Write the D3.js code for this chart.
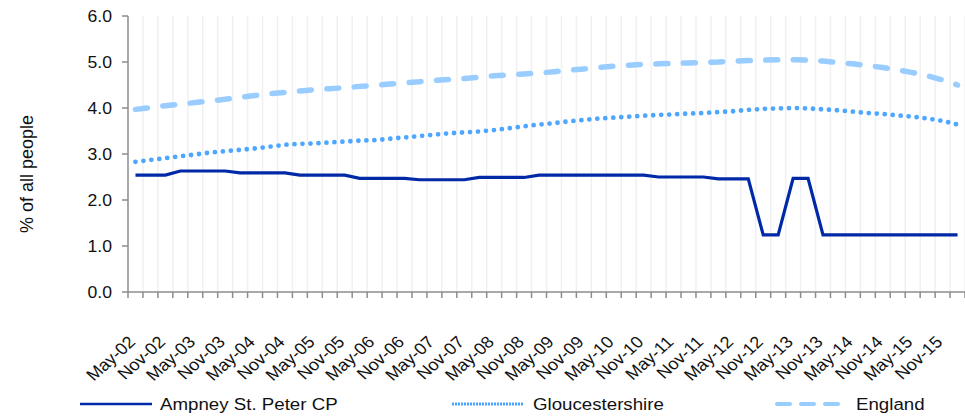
<!DOCTYPE html>
<html>
<head>
<meta charset="utf-8">
<script src="https://cdn.jsdelivr.net/npm/d3@7"></script>
<style>
  body { margin: 0; background: #fff; }
  svg text { font-family: "Liberation Sans", Arial, sans-serif; fill: #111; }
</style>
</head>
<body>
<div id="chart"></div>
<script>
// quarterly categories, May-02 .. Feb-16
var categories = [
  "May-02","Aug-02","Nov-02","Feb-03","May-03","Aug-03","Nov-03","Feb-04",
  "May-04","Aug-04","Nov-04","Feb-05","May-05","Aug-05","Nov-05","Feb-06",
  "May-06","Aug-06","Nov-06","Feb-07","May-07","Aug-07","Nov-07","Feb-08",
  "May-08","Aug-08","Nov-08","Feb-09","May-09","Aug-09","Nov-09","Feb-10",
  "May-10","Aug-10","Nov-10","Feb-11","May-11","Aug-11","Nov-11","Feb-12",
  "May-12","Aug-12","Nov-12","Feb-13","May-13","Aug-13","Nov-13","Feb-14",
  "May-14","Aug-14","Nov-14","Feb-15","May-15","Aug-15","Nov-15","Feb-16"
];

var ampney = [
  2.54, 2.54, 2.54, 2.63, 2.63, 2.63, 2.63, 2.59,
  2.59, 2.59, 2.59, 2.54, 2.54, 2.54, 2.54, 2.47,
  2.47, 2.47, 2.47, 2.44, 2.44, 2.44, 2.44, 2.49,
  2.49, 2.49, 2.49, 2.54, 2.54, 2.54, 2.54, 2.54,
  2.54, 2.54, 2.54, 2.50, 2.50, 2.50, 2.50, 2.46,
  2.46, 2.46, 1.24, 1.24, 2.47, 2.47, 1.24, 1.24,
  1.24, 1.24, 1.24, 1.24, 1.24, 1.24, 1.24, 1.24
];

var gloucestershire = [
  2.83, 2.87, 2.91, 2.95, 2.99, 3.03, 3.06, 3.09,
  3.12, 3.16, 3.20, 3.22, 3.23, 3.25, 3.27, 3.29,
  3.30, 3.33, 3.36, 3.39, 3.42, 3.45, 3.47, 3.49,
  3.52, 3.56, 3.60, 3.64, 3.67, 3.71, 3.74, 3.77,
  3.79, 3.81, 3.83, 3.85, 3.86, 3.88, 3.89, 3.91,
  3.93, 3.96, 3.98, 3.99, 4.00, 3.99, 3.97, 3.95,
  3.92, 3.89, 3.87, 3.84, 3.81, 3.77, 3.72, 3.64
];

var england = [
  3.97, 4.01, 4.05, 4.08, 4.12, 4.15, 4.19, 4.23,
  4.27, 4.31, 4.34, 4.37, 4.40, 4.42, 4.44, 4.47,
  4.49, 4.52, 4.55, 4.57, 4.60, 4.62, 4.64, 4.67,
  4.70, 4.72, 4.74, 4.76, 4.79, 4.82, 4.85, 4.88,
  4.91, 4.93, 4.95, 4.96, 4.97, 4.98, 4.99, 5.00,
  5.02, 5.03, 5.04, 5.05, 5.05, 5.04, 5.02, 4.99,
  4.96, 4.92, 4.88, 4.83, 4.77, 4.70, 4.61, 4.50
];

var yTicks = [0, 1, 2, 3, 4, 5, 6];

var width = 965, height = 417;
var plotLeft = 128, plotRight = 965, plotTop = 16, plotBottom = 292;
var stretch = 1.1; // text in the reference looks a bit wide

var svg = d3.select("#chart").append("svg")
    .attr("width", width)
    .attr("height", height);

var x = d3.scaleBand()
    .domain(categories)
    .range([plotLeft, plotRight])
    .padding(0);

var y = d3.scaleLinear()
    .domain([0, 6])
    .range([plotBottom, plotTop]);

function cx(d) { return x(d) + x.bandwidth() / 2; }

// tick positions sit on the band edges
var tickPos = categories.map(function(c) { return x(c); });
tickPos.push(plotRight);

// light vertical gridlines
svg.append("g")
    .selectAll("line")
    .data(tickPos.slice(1))
    .enter().append("line")
    .attr("x1", function(d) { return d; })
    .attr("x2", function(d) { return d; })
    .attr("y1", plotTop)
    .attr("y2", plotBottom)
    .attr("stroke", "#f0f0f0")
    .attr("stroke-width", 1.5);

// y axis
var yAxis = svg.append("g");
yAxis.append("line")
    .attr("x1", plotLeft).attr("x2", plotLeft)
    .attr("y1", plotTop).attr("y2", plotBottom)
    .attr("stroke", "#8c8c8c").attr("stroke-width", 1.5);
yAxis.selectAll(".ytick")
    .data(yTicks)
    .enter().append("line")
    .attr("x1", plotLeft - 6).attr("x2", plotLeft)
    .attr("y1", function(d) { return y(d); })
    .attr("y2", function(d) { return y(d); })
    .attr("stroke", "#8c8c8c").attr("stroke-width", 1.5);
yAxis.selectAll("text")
    .data(yTicks)
    .enter().append("text")
    .attr("transform", function(d) {
        return "translate(112," + (y(d) + 5.5) + ") scale(" + stretch + ",1)";
    })
    .attr("text-anchor", "end")
    .style("font-size", "16px")
    .text(function(d) { return d3.format(".1f")(d); });

svg.append("text")
    .attr("transform", "translate(33,174) rotate(-90)")
    .attr("text-anchor", "middle")
    .style("font-size", "18px")
    .text("% of all people");

// x axis
var xAxis = svg.append("g");
xAxis.append("line")
    .attr("x1", plotLeft).attr("x2", plotRight)
    .attr("y1", plotBottom).attr("y2", plotBottom)
    .attr("stroke", "#8c8c8c").attr("stroke-width", 1.5);
xAxis.selectAll(".xtick")
    .data(tickPos)
    .enter().append("line")
    .attr("x1", function(d) { return d; })
    .attr("x2", function(d) { return d; })
    .attr("y1", plotBottom)
    .attr("y2", plotBottom + 6)
    .attr("stroke", "#8c8c8c").attr("stroke-width", 1.5);
xAxis.selectAll("text")
    .data(categories.filter(function(c, i) { return i % 2 == 0; }))
    .enter().append("text")
    .attr("transform", function(d) {
        return "translate(" + (cx(d) + 1) + ",343) scale(" + stretch + ",1) rotate(-45)";
    })
    .attr("text-anchor", "end")
    .style("font-size", "16.5px")
    .text(function(d) { return d; });

// the three series
var series = [
    {name: "England", values: england, color: "#99ccff", width: 5.5, dash: "12,15.5", cap: "round"},
    {name: "Gloucestershire", values: gloucestershire, color: "#4da6ff", width: 4.8, dash: "0,8", cap: "round"},
    {name: "Ampney St. Peter CP", values: ampney, color: "#0029a8", width: 3.2, dash: null, cap: "butt"}
];

var line = d3.line()
    .x(function(d, i) { return cx(categories[i]); })
    .y(function(d) { return y(d); });

svg.append("g")
    .selectAll("path")
    .data(series)
    .enter().append("path")
    .attr("d", function(s) { return line(s.values); })
    .attr("fill", "none")
    .attr("stroke", function(s) { return s.color; })
    .attr("stroke-width", function(s) { return s.width; })
    .attr("stroke-dasharray", function(s) { return s.dash; })
    .attr("stroke-linecap", function(s) { return s.cap; })
    .attr("stroke-linejoin", "miter");

// legend
var legend = [
    {name: "Ampney St. Peter CP", color: "#0029a8", x0: 80, x1: 152, tx: 160, width: 2.5, dash: null, cap: "butt"},
    {name: "Gloucestershire", color: "#4da6ff", x0: 452, x1: 523, tx: 533, width: 2.8, dash: "2,1", cap: "butt"},
    {name: "England", color: "#99ccff", x0: 777, x1: 846, tx: 856, width: 4, dash: "13,11", cap: "round"}
];

var lg = svg.append("g").selectAll("g")
    .data(legend)
    .enter().append("g");
lg.append("line")
    .attr("x1", function(d) { return d.x0; })
    .attr("x2", function(d) { return d.x1; })
    .attr("y1", 404).attr("y2", 404)
    .attr("stroke", function(d) { return d.color; })
    .attr("stroke-width", function(d) { return d.width; })
    .attr("stroke-dasharray", function(d) { return d.dash; })
    .attr("stroke-linecap", function(d) { return d.cap; });
lg.append("text")
    .attr("transform", function(d) { return "translate(" + d.tx + ",410) scale(" + stretch + ",1)"; })
    .style("font-size", "17px")
    .text(function(d) { return d.name; });
</script>
</body>
</html>
